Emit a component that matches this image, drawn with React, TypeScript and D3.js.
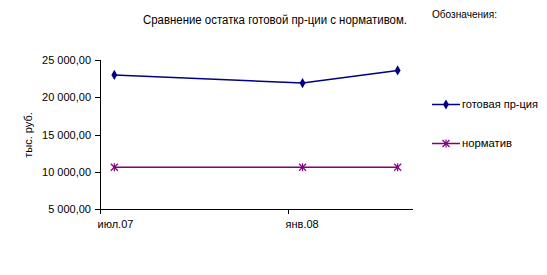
import React from "react";
import * as d3 from "d3";

const dates = ["2007-07-15", "2008-01-15", "2008-04-17"];
const gotovaya = [23000, 21900, 23600];
const normativ = [10600, 10600, 10600];
const yTicks = [5000, 10000, 15000, 20000, 25000];
const xTickDates = ["2007-07-01", "2008-01-01"];
const xTickLabels = ["июл.07", "янв.08"];
const seriesNames = ["готовая пр-ция", "норматив"];
const title = "Сравнение остатка готовой пр-ции с нормативом.";
const legendTitle = "Обозначения:";
const yTitle = "тыс. руб.";

const parse = d3.timeParse("%Y-%m-%d");
const fmt = (v: number) => {
  const s = d3.format(",.2f")(v);
  return s.replace(/,/g, " ").replace(".", ",");
};

export default function App() {
  const x = d3
    .scaleTime()
    .domain([parse("2007-07-01")!, parse("2008-05-02")!])
    .range([100, 413]);
  const y = d3.scaleLinear().domain([5000, 25000]).range([209, 60]);
  const xs = dates.map((d) => x(parse(d)!));
  const line = d3
    .line<number>()
    .x((_, i) => xs[i])
    .y((v) => y(v));
  const diamond = d3.symbol().type(d3.symbolDiamond).size(30)()!;
  const font = "'Liberation Sans', Arial, sans-serif";
  const blue = "#000080";
  const purple = "#800080";

  const Star = ({ cx, cy, r = 3.5 }: { cx: number; cy: number; r?: number }) => (
    <g stroke={purple} strokeWidth={1.2}>
      <line x1={cx - r} y1={cy - r} x2={cx + r} y2={cy + r} />
      <line x1={cx - r} y1={cy + r} x2={cx + r} y2={cy - r} />
      <line x1={cx} y1={cy - r - 0.5} x2={cx} y2={cy + r + 0.5} />
    </g>
  );

  return (
    <svg
      width={547}
      height={275}
      style={{ position: "absolute", left: 0, top: 0, background: "#fff" }}
      fontFamily={font}
    >
      <rect width={547} height={275} fill="#fff" />
      <text x={143} y={24} fontSize={12} textLength={264} lengthAdjust="spacingAndGlyphs">
        {title}
      </text>
      <text x={432} y={18} fontSize={11} textLength={65} lengthAdjust="spacingAndGlyphs">
        {legendTitle}
      </text>

      {/* y axis */}
      <line x1={100.5} y1={60} x2={100.5} y2={209} stroke="#000" />
      {yTicks.map((t) => (
        <g key={t}>
          <line x1={95} x2={100} y1={Math.round(y(t)) + 0.5} y2={Math.round(y(t)) + 0.5} stroke="#000" />
          <text x={91} y={y(t) + 4} fontSize={11} textAnchor="end">
            {fmt(t)}
          </text>
        </g>
      ))}
      <text
        transform={`translate(32,135) rotate(-90)`}
        fontSize={11}
        textAnchor="middle"
      >
        {yTitle}
      </text>

      {/* x axis */}
      <line x1={100} x2={413} y1={209.5} y2={209.5} stroke="#000" />
      {xTickDates.map((d, i) => {
        const px = Math.round(x(parse(d)!)) + 0.5;
        return (
          <g key={d}>
            <line x1={px} x2={px} y1={209} y2={214} stroke="#000" />
            <text x={px - 3} y={228} fontSize={11}>
              {xTickLabels[i]}
            </text>
          </g>
        );
      })}

      {/* series */}
      <path d={line(normativ)!} fill="none" stroke={purple} strokeWidth={1.5} />
      {normativ.map((v, i) => (
        <Star key={i} cx={xs[i]} cy={y(v)} />
      ))}
      <path d={line(gotovaya)!} fill="none" stroke={blue} strokeWidth={1.5} />
      {gotovaya.map((v, i) => (
        <path key={i} d={diamond} transform={`translate(${xs[i]},${y(v)})`} fill={blue} />
      ))}

      {/* legend */}
      <line x1={432} x2={460} y1={104.5} y2={104.5} stroke={blue} strokeWidth={1.5} />
      <path d={diamond} transform="translate(446,104.5)" fill={blue} />
      <text x={462} y={108} fontSize={11} textLength={76} lengthAdjust="spacingAndGlyphs">
        {seriesNames[0]}
      </text>
      <line x1={432} x2={460} y1={143.5} y2={143.5} stroke={purple} strokeWidth={1.5} />
      <Star cx={446} cy={143.5} />
      <text x={462} y={147} fontSize={11} textLength={50} lengthAdjust="spacingAndGlyphs">
        {seriesNames[1]}
      </text>
    </svg>
  );
}
